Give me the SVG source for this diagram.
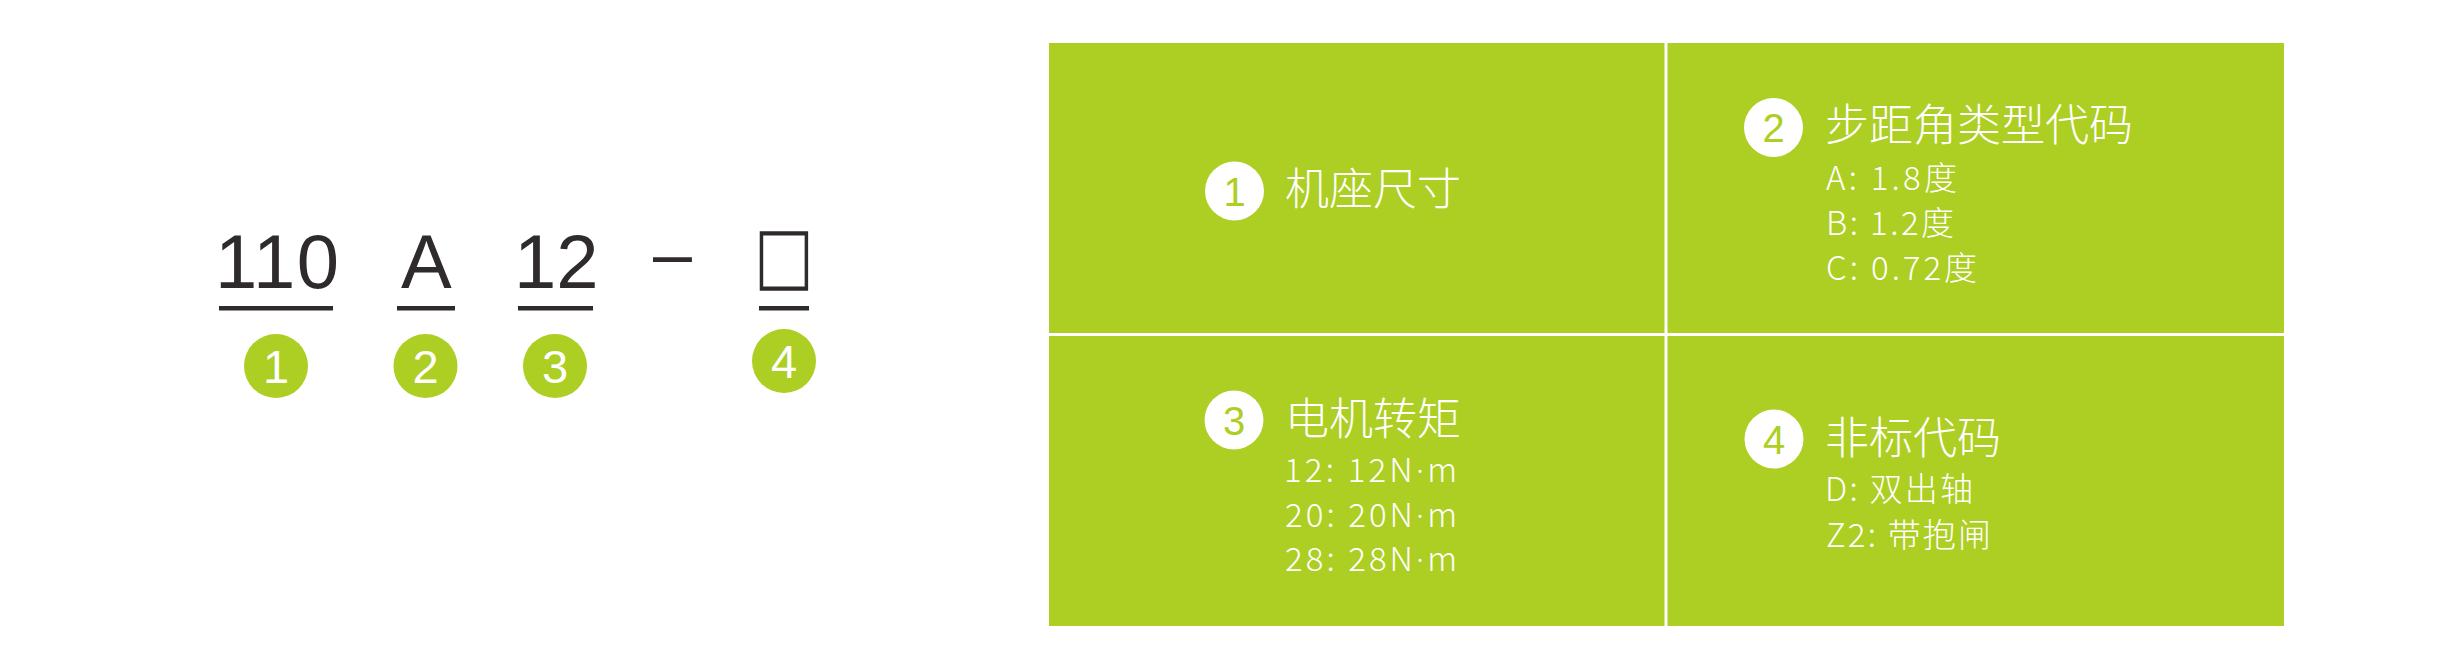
<svg xmlns="http://www.w3.org/2000/svg" width="2462" height="662" viewBox="0 0 2462 662">
<defs>
<style>
.code{font-family:"Liberation Sans",Arial,sans-serif;font-size:76px;fill:#2f2a2b}
.ul{fill:#2f2a2b}
.bub{fill:#adce22}
.bubn{font-family:"Liberation Sans",Arial,sans-serif;font-size:47px;fill:#ffffff;text-anchor:middle}
.wc{fill:#ffffff}
.wcn{font-family:"Liberation Sans",Arial,sans-serif;font-size:40px;fill:#adce22;text-anchor:middle}
.title{font-family:"Noto Sans CJK SC","Noto Sans",sans-serif;font-size:44px;fill:#ffffff;font-weight:300}
.sub{font-family:"Noto Sans CJK SC","Noto Sans",sans-serif;font-size:33px;fill:#ffffff;font-weight:300}
.dot{font-family:"Noto Sans","DejaVu Sans",sans-serif}
.div{stroke:#ffffff;stroke-width:3}
</style>
</defs>
<rect width="2462" height="662" fill="#ffffff"/>

<g id="code">
<g id="code-110">
<text class="code" x="215" y="288" textLength="124" lengthAdjust="spacing">110</text>
<rect class="ul" x="219" y="306" width="114" height="4.5"/>
<circle class="bub" cx="276" cy="366" r="32"/>
<text class="bubn" x="276" y="383">1</text>
</g>
<g id="code-A">
<text class="code" x="401" y="288">A</text>
<rect class="ul" x="397" y="306" width="58" height="4.5"/>
<circle class="bub" cx="425.5" cy="366" r="32"/>
<text class="bubn" x="425.5" y="383">2</text>
</g>
<g id="code-12">
<text class="code" x="514" y="288">12</text>
<rect class="ul" x="518" y="306" width="75" height="4.5"/>
<circle class="bub" cx="555" cy="366" r="32"/>
<text class="bubn" x="555" y="383">3</text>
</g>
<g id="code-dash">
<text class="code" x="653" y="278" style="font-size:70px">–</text>
</g>
<g id="code-box">
<text class="code" transform="translate(784,288) scale(0.92,1.12)" x="0" y="0" style="font-family:'Noto Sans CJK SC',sans-serif;font-size:64px;text-anchor:middle;stroke:#2f2a2b;stroke-width:1.4">□</text>
<rect class="ul" x="759" y="306" width="50" height="4.5"/>
<circle class="bub" cx="784" cy="361" r="32"/>
<text class="bubn" x="784" y="378">4</text>
</g>
</g>

<g id="panel">
<rect x="1049" y="43" width="1235" height="583" fill="#adce22"/>
</g>
<g id="connectors">
<line class="div" x1="1666" y1="43" x2="1666" y2="626"/>
<line class="div" x1="1049" y1="334.5" x2="2284" y2="334.5"/>
</g>

<g id="cell1">
<circle class="wc" cx="1234.5" cy="191" r="29.5"/>
<text class="wcn" x="1234.5" y="205.5">1</text>
<text class="title" x="1285" y="205">机座尺寸</text>
</g>

<g id="cell2">
<circle class="wc" cx="1773.5" cy="127.5" r="29.5"/>
<text class="wcn" x="1773.5" y="142">2</text>
<text class="title" x="1825" y="141">步距角类型代码</text>
<text class="sub" x="1826" y="190" textLength="131" lengthAdjust="spacing">A: 1.8度</text>
<text class="sub" x="1826" y="235" textLength="128" lengthAdjust="spacing">B: 1.2度</text>
<text class="sub" x="1826" y="280" textLength="151" lengthAdjust="spacing">C: 0.72度</text>
</g>

<g id="cell3">
<circle class="wc" cx="1234" cy="420" r="29.5"/>
<text class="wcn" x="1234" y="434.5">3</text>
<text class="title" x="1285" y="435">电机转矩</text>
<text class="sub" x="1284" y="482" textLength="173" lengthAdjust="spacing">12: 12N<tspan class="dot">·</tspan>m</text>
<text class="sub" x="1285" y="527" textLength="172" lengthAdjust="spacing">20: 20N<tspan class="dot">·</tspan>m</text>
<text class="sub" x="1285" y="571" textLength="172" lengthAdjust="spacing">28: 28N<tspan class="dot">·</tspan>m</text>
</g>

<g id="cell4">
<circle class="wc" cx="1774" cy="439" r="29.5"/>
<text class="wcn" x="1774" y="453.5">4</text>
<text class="title" x="1825" y="454">非标代码</text>
<text class="sub" x="1825" y="501" textLength="148" lengthAdjust="spacing">D: 双出轴</text>
<text class="sub" x="1826" y="547" textLength="165" lengthAdjust="spacing">Z2: 带抱闸</text>
</g>
</svg>
